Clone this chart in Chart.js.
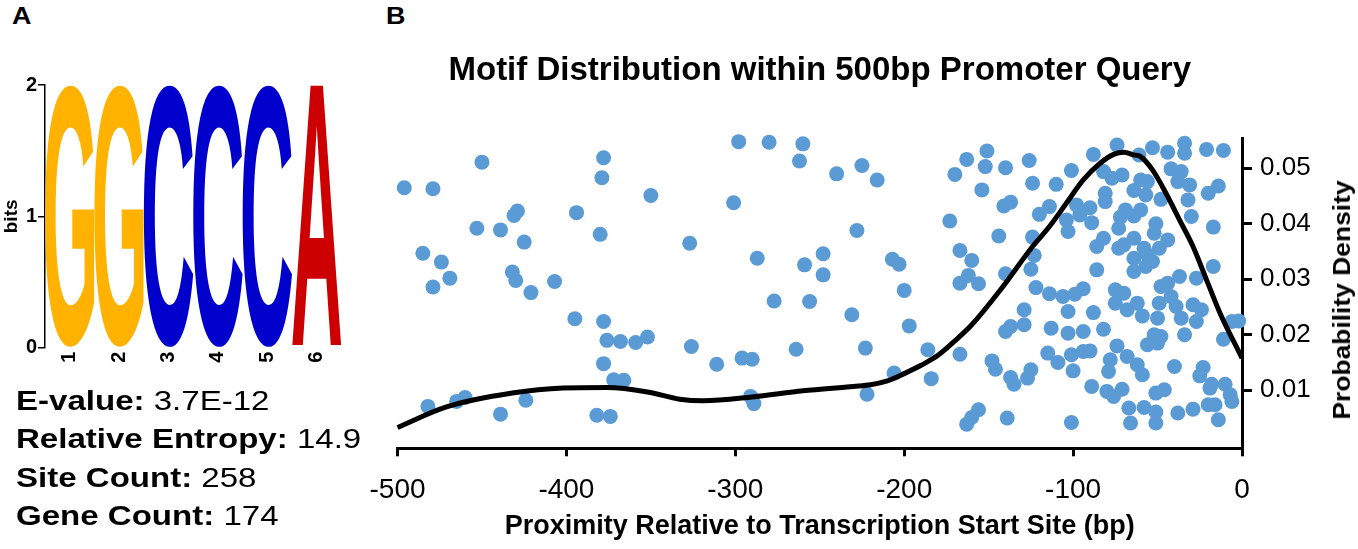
<!DOCTYPE html>
<html>
<head>
<meta charset="utf-8">
<title>Motif Distribution within 500bp Promoter Query</title>
<script src="https://cdn.jsdelivr.net/npm/chart.js@4.4.1/dist/chart.umd.min.js"></script>
<style>
  html, body { margin: 0; padding: 0; background: #fff; }
  body { width: 1358px; height: 549px; position: relative; overflow: hidden;
         font-family: "Liberation Sans", Arial, sans-serif; color: #000; }
  canvas { position: absolute; left: 0; top: 0; }
  #logoChart { z-index: 2; }
  .panel { position: absolute; font-weight: bold; font-size: 24px; line-height: 24px;
           transform: scaleX(1.12); transform-origin: left center; }
  .stat { position: absolute; left: 16px; font-size: 28px; line-height: 28px; white-space: nowrap;
          transform: scaleX(1.18); transform-origin: left center; }
  #yTitle { position: absolute; left: 1342px; top: 300px; font-weight: bold; font-size: 24px;
            white-space: nowrap; transform: translate(-50%, -50%) rotate(-90deg) scaleX(1.1); }
</style>
</head>
<body>
<div class="panel" style="left:12px; top:4px;">A</div>
<div class="panel" style="left:386px; top:4px;">B</div>

<canvas id="logoChart" width="380" height="372"></canvas>
<canvas id="distChart" width="1358" height="549"></canvas>

<div class="stat" style="top:387px;"><b>E-value:</b> 3.7E-12</div>
<div class="stat" style="top:425px;"><b>Relative Entropy:</b> 14.9</div>
<div class="stat" style="top:464px;"><b>Site Count:</b> 258</div>
<div class="stat" style="top:502px;"><b>Gene Count:</b> 174</div>
<div id="yTitle">Probability Density</div>

<script>
// panel A - motif logo
const logoPositions = ['1', '2', '3', '4', '5', '6'];
const logoLetters = ['G', 'G', 'C', 'C', 'C', 'A'];
const logoBits = [2, 2, 2, 2, 2, 2];
const letterColors = { A: '#CC0000', C: '#0000CC', G: '#FFB300', T: '#008000' };

// panel B - motif sites and density
const xTicks = [-500, -400, -300, -200, -100, 0];
const yTicks = [0.01, 0.02, 0.03, 0.04, 0.05];

const siteX = [
  -496, -479, -450, -378, -379, -350, -429, -431, -394, -453, -439, -425, -380, -485, -474, -469,
  -479, -432, -430, -421, -407, -395, -378, -376, -368, -359, -352, -378, -372, -366, -482, -465,
  -460, -424, -439, -382, -374,
  -298, -280, -260, -262, -240, -225, -216, -301, -327, -228, -287, -259, -248, -248, -207, -203,
  -200, -277, -256, -231, -197, -326, -311, -296, -290, -264, -223, -186, -206, -184, -291, -289,
  -222,
  -151, -163, -152, -170, -140, -126, -88, -101, -124, -110, -154, -137, -141, -114, -120, -173,
  -98, -90, -96, -104, -89, -103, -144, -124, -167, -160, -123, -86, -140, -162, -167, -156,
  -125, -86, -122, -114, -106, -99, -94,
  -129, -129, -137, -140, -113, -103, -88, -103, -94, -167, -148, -146, -115, -109, -101, -94,
  -90, -100, -125, -127, -137, -135, -89, -156, -160, -163, -139, -101,
  -74, -53, -44, -34, -34, -21, -11, -61, -42, -36, -71, -77, -82, -60, -56, -38,
  -31, -14, -20, -81, -64, -57, -81, -48, -32, -60, -69, -72, -64, -30, -73, -51,
  -52, -17, -82, -64, -70, -73, -58, -44, -49, -64, -56, -53, -64, -57, -37, -44,
  -48, -27, -17, -75, -70, -42,
  -75, -68, -62, -59, -49, -39, -36, -50, -29, -24, -27, -6, -82, -34, -52, -48,
  -56, -50, -11, -74, -78, -68, -62, -79, -59, -40, -23, -25, -18, -10, -19, -7,
  -6, -80, -76, -71, -51, -46, -67, -58, -51, -51, -66, -38, -29, -20, -16, -14,
  -2
];
const siteY = [
  0.0465, 0.0463, 0.0511, 0.0519, 0.0483, 0.0451, 0.0423, 0.0415, 0.0420, 0.0392, 0.0389, 0.0367, 0.0381, 0.0347, 0.0331, 0.0302,
  0.0286, 0.0313, 0.0298, 0.0276, 0.0296, 0.0229, 0.0224, 0.0190, 0.0188, 0.0186, 0.0196, 0.0148, 0.0119, 0.0118, 0.0071, 0.0080,
  0.0087, 0.0082, 0.0057, 0.0055, 0.0053,
  0.0548, 0.0547, 0.0544, 0.0513, 0.0490, 0.0505, 0.0479, 0.0438, 0.0365, 0.0388, 0.0338, 0.0326, 0.0346, 0.0308, 0.0336, 0.0327,
  0.0280, 0.0261, 0.0260, 0.0236, 0.0216, 0.0179, 0.0147, 0.0158, 0.0156, 0.0174, 0.0176, 0.0173, 0.0131, 0.0121, 0.0089, 0.0076,
  0.0093,
  0.0531, 0.0516, 0.0503, 0.0489, 0.0501, 0.0514, 0.0525, 0.0496, 0.0473, 0.0471, 0.0461, 0.0439, 0.0432, 0.0431, 0.0417, 0.0405,
  0.0434, 0.0429, 0.0416, 0.0407, 0.0402, 0.0386, 0.0378, 0.0376, 0.0352, 0.0334, 0.0343, 0.0359, 0.0310, 0.0307, 0.0293, 0.0292,
  0.0318, 0.0317, 0.0285, 0.0274, 0.0269, 0.0273, 0.0283,
  0.0245, 0.0218, 0.0215, 0.0206, 0.0212, 0.0242, 0.0240, 0.0203, 0.0206, 0.0165, 0.0153, 0.0138, 0.0167, 0.0150, 0.0164, 0.0170,
  0.0171, 0.0135, 0.0137, 0.0122, 0.0123, 0.0111, 0.0107, 0.0065, 0.0051, 0.0039, 0.0050, 0.0042,
  0.0542, 0.0537, 0.0529, 0.0545, 0.0527, 0.0534, 0.0532, 0.0524, 0.0499, 0.0494, 0.0488, 0.0482, 0.0494, 0.0479, 0.0476, 0.0476,
  0.0470, 0.0468, 0.0455, 0.0455, 0.0460, 0.0452, 0.0440, 0.0444, 0.0443, 0.0425, 0.0425, 0.0412, 0.0414, 0.0413, 0.0392, 0.0400,
  0.0383, 0.0394, 0.0374, 0.0374, 0.0362, 0.0356, 0.0356, 0.0371, 0.0356, 0.0338, 0.0344, 0.0332, 0.0314, 0.0323, 0.0305, 0.0293,
  0.0287, 0.0302, 0.0323, 0.0281, 0.0275, 0.0269,
  0.0257, 0.0245, 0.0257, 0.0234, 0.0257, 0.0251, 0.0230, 0.0230, 0.0254, 0.0245, 0.0224, 0.0224, 0.0210, 0.0200, 0.0200, 0.0197,
  0.0182, 0.0185, 0.0192, 0.0180, 0.0155, 0.0161, 0.0146, 0.0134, 0.0128, 0.0143, 0.0141, 0.0126, 0.0111, 0.0111, 0.0104, 0.0092,
  0.0080, 0.0098, 0.0089, 0.0102, 0.0095, 0.0101, 0.0068, 0.0069, 0.0061, 0.0041, 0.0041, 0.0059, 0.0066, 0.0074, 0.0074, 0.0047,
  0.0225
];

// density curve
const densityX = [-500, -471, -432, -402, -376, -352, -333, -319, -290, -260, -230, -220, -210, -200, -190, -180,
                  -170, -160, -143, -124, -114, -104, -94, -84, -76, -70, -64, -60, -53, -45, -37, -29, -21, -13, 0];
const densityY = [0.0033, 0.0070, 0.0095, 0.0104, 0.0105, 0.0097, 0.0084, 0.0081, 0.0088, 0.0099, 0.0107, 0.0110, 0.0117, 0.0130, 0.0145, 0.0163,
                  0.0189, 0.0218, 0.0281, 0.0359, 0.0395, 0.0437, 0.0479, 0.0509, 0.0525, 0.0529, 0.0524, 0.0521, 0.0497, 0.0455, 0.0407, 0.0359, 0.0299, 0.0239, 0.0158];

Chart.defaults.font.family = '"Liberation Sans", Arial, Helvetica, sans-serif';
Chart.defaults.color = '#000';

// stretch each letter to fill its bar
const letterPlugin = {
  id: 'logoLetters',
  afterDatasetsDraw(chart) {
    const ctx = chart.ctx;
    const meta = chart.getDatasetMeta(0);
    meta.data.forEach((bar, i) => {
      const letter = logoLetters[i];
      const left = bar.x - bar.width / 2;
      const w = bar.width;
      const h = bar.base - bar.y;
      ctx.save();
      ctx.font = 'bold 200px "Liberation Sans", Arial, sans-serif';
      ctx.textAlign = 'left';
      ctx.textBaseline = 'alphabetic';
      const m = ctx.measureText(letter);
      const gw = m.actualBoundingBoxLeft + m.actualBoundingBoxRight;
      const gh = m.actualBoundingBoxAscent + m.actualBoundingBoxDescent;
      ctx.translate(left, bar.y);
      ctx.scale(w / gw, h / gh);
      ctx.fillStyle = letterColors[letter];
      ctx.fillText(letter, m.actualBoundingBoxLeft, m.actualBoundingBoxAscent);
      ctx.restore();
    });
  }
};

new Chart(document.getElementById('logoChart'), {
  type: 'bar',
  data: {
    labels: logoPositions,
    datasets: [{
      data: logoBits,
      backgroundColor: 'rgba(0,0,0,0)',
      categoryPercentage: 1,
      barPercentage: 1
    }]
  },
  options: {
    responsive: false,
    animation: false,
    layout: { padding: { top: 85, right: 38.6, left: 0, bottom: 0 } },
    plugins: { legend: { display: false }, tooltip: { enabled: false } },
    scales: {
      x: {
        grid: { display: false, drawTicks: false },
        border: { display: false },
        ticks: { minRotation: 90, maxRotation: 90, padding: 4, font: { size: 20, weight: 'bold' } },
        afterFit: (s) => { s.height = 372 - 347.7; }
      },
      y: {
        min: 0,
        max: 2,
        grid: { drawOnChartArea: false, drawTicks: true, tickLength: 7, color: '#000', lineWidth: 1.5 },
        border: { color: '#000', width: 1.5 },
        ticks: { stepSize: 1, padding: 1, font: { size: 20, weight: 'bold' } },
        title: { display: true, text: 'bits', font: { size: 19, weight: 'bold' }, padding: { top: 0, bottom: 0 } },
        afterFit: (s) => { s.width = 45; }
      }
    }
  },
  plugins: [letterPlugin]
});

new Chart(document.getElementById('distChart'), {
  type: 'scatter',
  data: {
    datasets: [
      {
        type: 'line',
        data: densityX.map((x, i) => ({ x: x, y: densityY[i] })),
        borderColor: '#000',
        borderWidth: 5,
        pointRadius: 0,
        cubicInterpolationMode: 'monotone',
        fill: false,
        order: 0,
        clip: false
      },
      {
        data: siteX.map((x, i) => ({ x: x, y: siteY[i] })),
        backgroundColor: '#5B9BD5',
        borderWidth: 0,
        pointRadius: 7.5,
        order: 1,
        clip: false
      }
    ]
  },
  options: {
    responsive: false,
    animation: false,
    layout: { padding: { left: 397.5, top: 0, right: 0, bottom: 0 } },
    plugins: {
      legend: { display: false },
      tooltip: { enabled: false },
      title: {
        display: true,
        text: 'Motif Distribution within 500bp Promoter Query',
        fullSize: false,
        font: { size: 33, weight: 'bold' },
        padding: { top: 51, bottom: 47.7 }
      }
    },
    scales: {
      x: {
        type: 'linear',
        min: -500,
        max: 0,
        afterBuildTicks: (s) => { s.ticks = xTicks.map(v => ({ value: v })); },
        grid: { drawOnChartArea: false, tickLength: 8, lineWidth: 3, color: '#000' },
        border: { color: '#000', width: 3 },
        ticks: { font: { size: 28 }, padding: 17, maxRotation: 0 },
        title: {
          display: true,
          text: 'Proximity Relative to Transcription Start Site (bp)',
          font: { size: 27, weight: 'bold' },
          padding: { top: 0, bottom: 6 }
        },
        afterFit: (s) => { s.height = 549 - 448.3; }
      },
      y: {
        type: 'linear',
        position: 'right',
        min: -0.00045,
        max: 0.0554,
        afterBuildTicks: (s) => { s.ticks = yTicks.map(v => ({ value: v })); },
        grid: { drawOnChartArea: false, tickLength: 10, lineWidth: 3, color: '#000' },
        border: { color: '#000', width: 3 },
        ticks: { font: { size: 26 }, padding: 8, callback: (v) => Number(v).toFixed(2) },
        afterFit: (s) => { s.width = 1358 - 1242; }
      }
    }
  }
});
</script>
</body>
</html>
